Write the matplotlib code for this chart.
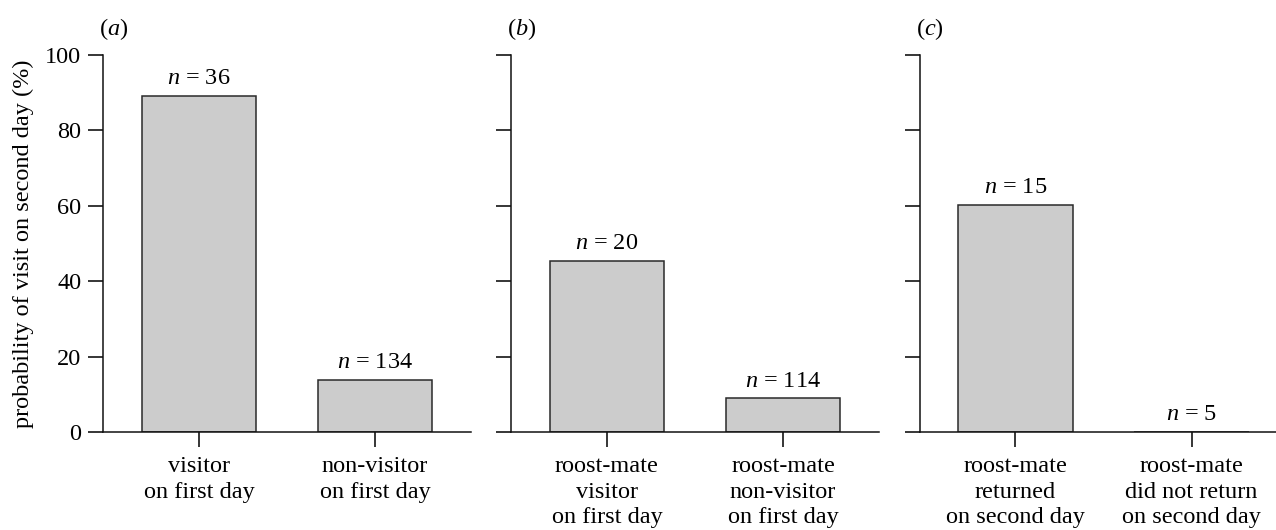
import matplotlib
matplotlib.use("Agg")
import matplotlib.pyplot as plt

plt.rcParams["font.family"] = ["Liberation Serif", "DejaVu Serif"]
plt.rcParams["mathtext.fontset"] = "custom"
plt.rcParams["mathtext.rm"] = "Liberation Serif"
plt.rcParams["mathtext.it"] = "Liberation Serif:italic"

# panel data
panel_tags = ["a", "b", "c"]
cats_a = ["visitor\non first day", "non-visitor\non first day"]
cats_b = ["roost-mate\nvisitor\non first day", "roost-mate\nnon-visitor\non first day"]
cats_c = ["roost-mate\nreturned\non second day", "roost-mate\ndid not return\non second day"]
vals_a = [89.2, 13.9]
vals_b = [45.3, 8.9]
vals_c = [60.2, 0.0]
n_a = [36, 134]
n_b = [20, 114]
n_c = [15, 5]

cats = [cats_a, cats_b, cats_c]
vals = [vals_a, vals_b, vals_c]
ns = [n_a, n_b, n_c]

FS = 17.5
fig = plt.figure(figsize=(12.76, 5.30), dpi=100)
lefts = [103 / 1276, 511 / 1276, 919.5 / 1276]
w = 368 / 1276
bottom = 1 - 432 / 530
h = 377 / 530

for i in range(3):
    ax = fig.add_axes([lefts[i], bottom, w, h])
    x = range(len(vals[i]))
    ax.bar(x, vals[i], width=0.65, color="#cccccc", edgecolor="#2a2a2a", linewidth=1.1)
    for xi, v, n in zip(x, vals[i], ns[i]):
        ax.annotate(r"$n$ = %d" % n, (xi, v), textcoords="offset points", xytext=(0, 8.5),
                    ha="center", va="baseline", fontsize=FS)
    ax.set_xlim(-0.545, 1.545)
    ax.set_ylim(0, 100)
    ax.set_yticks(range(0, 101, 20))
    ax.set_xticks(list(x))
    ax.set_xticklabels(cats[i], fontsize=FS, linespacing=1.27)
    for s in ("top", "right"):
        ax.spines[s].set_visible(False)
    for s in ("left", "bottom"):
        ax.spines[s].set_linewidth(1.1)
        ax.spines[s].set_color("#111111")
    ax.tick_params(axis="y", direction="out", length=10.6, width=1.1, labelsize=FS, pad=5)
    ax.tick_params(axis="x", direction="out", length=10.6, width=1.1, pad=7)
    if i == 0:
        ax.set_ylabel("probability of visit on second day (%)", fontsize=FS, labelpad=8)
    else:
        ax.set_yticklabels([])
    ax.text(-0.01, 1.07, "(" + r"$%s$" % panel_tags[i] + ")", transform=ax.transAxes,
            fontsize=FS, ha="left", va="center")

fig.savefig("out.png", dpi=100, facecolor="white")
